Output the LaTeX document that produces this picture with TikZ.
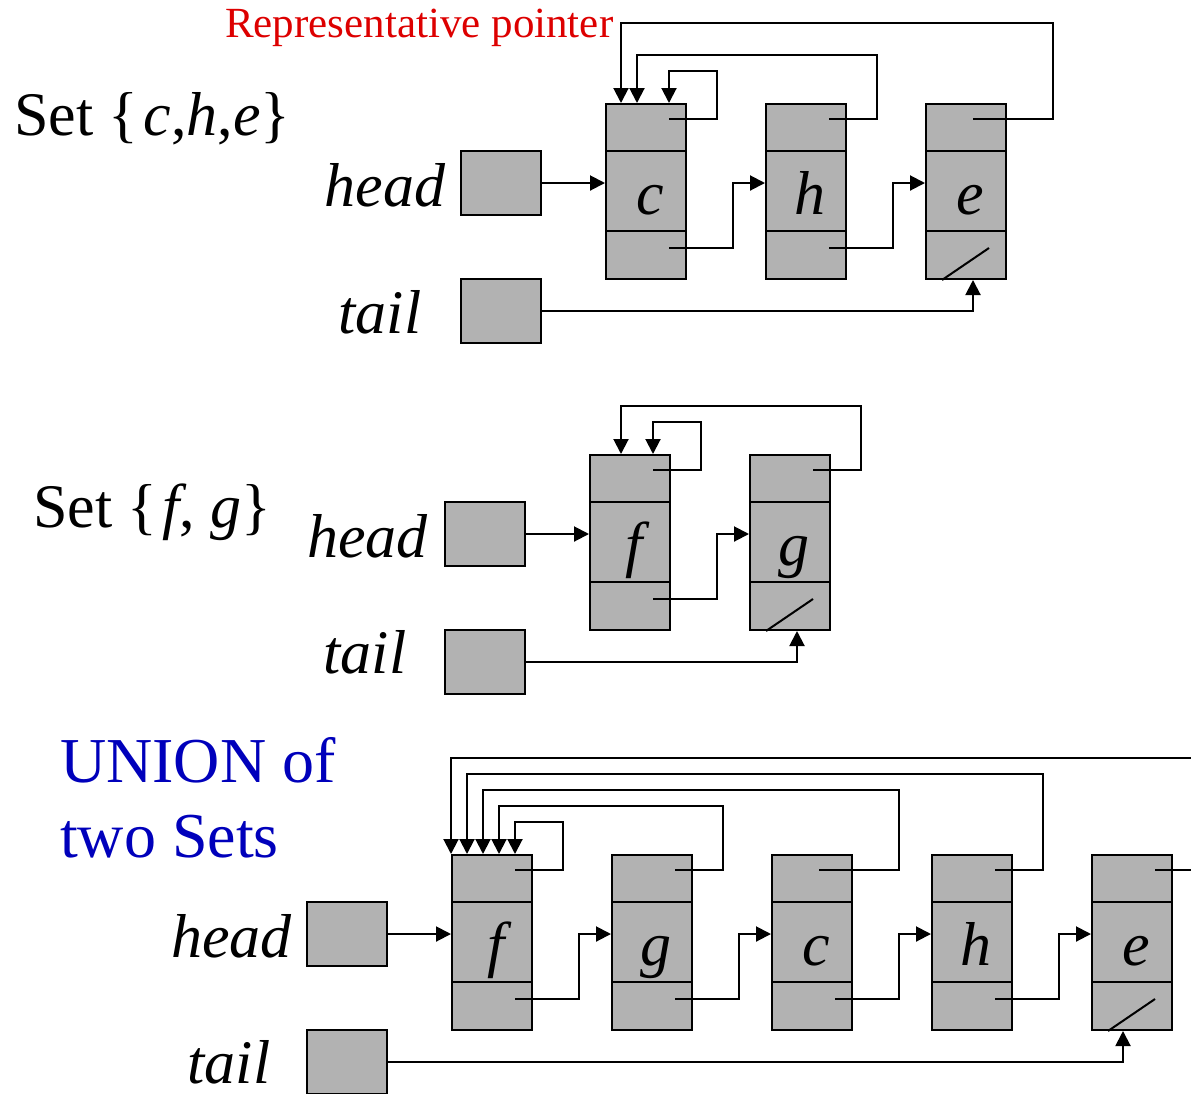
\documentclass[tikz,border=0pt]{standalone}
\usepackage{fontspec}
\setmainfont{Liberation Serif}
\usetikzlibrary{arrows.meta,calc}

\definecolor{boxgray}{RGB}{178,178,178}
\definecolor{repred}{RGB}{221,0,0}
\definecolor{setblue}{RGB}{0,0,187}

\tikzset{
  elem/.style={draw, fill=boxgray, line width=2pt, minimum width=80pt,
    minimum height=175pt, inner sep=0pt, anchor=north west},
  ptrbox/.style={draw, fill=boxgray, line width=2pt, minimum width=80pt,
    minimum height=64pt, inner sep=0pt},
  divider/.style={line width=2pt},
  wire/.style={line width=2pt},
  link/.style={line width=2pt, -{Triangle[length=15pt,width=15pt]}},
  letter/.style={anchor=base, inner sep=0pt, font=\fontsize{62}{62}\selectfont\itshape},
  lbl/.style={inner sep=0pt, font=\fontsize{62}{62}\selectfont},
  ilbl/.style={inner sep=0pt, anchor=base, font=\fontsize{62}{62}\selectfont\itshape},
}

% one list element: name, left x, top y, letter
\newcommand\ListElem[4]{%
  \node[elem] (#1) at (#2,#3) {};
  \draw[divider] ($(#1.north west)+(0,48)$) -- ($(#1.north east)+(0,48)$);
  \draw[divider] ($(#1.north west)+(0,128)$) -- ($(#1.north east)+(0,128)$);
  \node[letter] (#1-t) at ($(#1.north)+(4,111)$) {#4};
  \coordinate (#1-r) at ($(#1.north west)+(64,16)$);
  \coordinate (#1-n) at ($(#1.south west)+(64,-32)$);
  \coordinate (#1-in) at ($(#1.north west)+(0,80)$);
}
% null "next" field
\newcommand\NullMark[1]{%
  \draw[wire] ($(#1.south west)+(17,0)$) -- ($(#1.south west)+(64,-32)$);
}

\begin{document}
\begin{tikzpicture}[x=1pt,y=-1pt]
\useasboundingbox (0,0) rectangle (1191,1093);
\clip (0,0) rectangle (1191,1093);

% ---------------- Set {c,h,e} ----------------
\node[lbl, text=repred, font=\fontsize{43}{43}\selectfont, anchor=base west] (rep) at (225,37) {Representative pointer};
\node[lbl, anchor=base west] (set1) at (14,135) {Set \{\kern5pt\textit{c},\textit{h},\textit{e}\}};
\node[ilbl] (head1) at (385,206) {head};
\node[ilbl] (tail1) at (380,333) {tail};
\node[ptrbox] (hd1) at (501,183) {};
\node[ptrbox] (tl1) at (501,311) {};

\ListElem{c1}{605}{103}{c}
\ListElem{h1}{765}{103}{h}
\ListElem{e1}{925}{103}{e}
\coordinate (e1-r) at ($(e1.north west)+(48,16)$);
\NullMark{e1}

\draw[link] (hd1.east) -- (c1-in);
\draw[link] (c1-n) -- ++(64,0) |- (h1-in);
\draw[link] (h1-n) -- ++(64,0) |- (e1-in);
\draw[link] (tl1.east) -| ($(e1.south west)+(48,0)$);

\draw[link] (c1-r) -- ++(48,0) |- ($(c1.north west)+(64,-32)$) -- ($(c1.north west)+(64,0)$);
\draw[link] (h1-r) -- ++(48,0) |- ($(c1.north west)+(32,-48)$) -- ($(c1.north west)+(32,0)$);
\draw[link] (e1-r) -- ++(80,0) |- ($(c1.north west)+(16,-80)$) -- ($(c1.north west)+(16,0)$);

% ---------------- Set {f, g} ----------------
\node[lbl, anchor=base west] (set2) at (33,527) {Set \{\kern5pt\textit{f}, \textit{g}\}};
\node[ilbl] (head2) at (367.5,557) {head};
\node[ilbl] (tail2) at (365,673) {tail};
\node[ptrbox] (hd2) at (485,534) {};
\node[ptrbox] (tl2) at (485,662) {};

\ListElem{f2}{589}{454}{f}
\ListElem{g2}{749}{454}{g}
\NullMark{g2}

\draw[link] (hd2.east) -- (f2-in);
\draw[link] (f2-n) -- ++(64,0) |- (g2-in);
\draw[link] (tl2.east) -| ($(g2.south west)+(48,0)$);

\draw[link] (f2-r) -- ++(48,0) |- ($(f2.north west)+(64,-32)$) -- ($(f2.north west)+(64,0)$);
\draw[link] (g2-r) -- ++(48,0) |- ($(f2.north west)+(32,-48)$) -- ($(f2.north west)+(32,0)$);

% ---------------- UNION ----------------
\node[lbl, text=setblue, font=\fontsize{64}{64}\selectfont, anchor=base west] (un1) at (60,782) {UNION of};
\node[lbl, text=setblue, font=\fontsize{64}{64}\selectfont, anchor=base west] (un2) at (60,857) {two Sets};
\node[ilbl] (head3) at (231.5,957) {head};
\node[ilbl] (tail3) at (229,1083) {tail};
\node[ptrbox] (hd3) at (347,934) {};
\node[ptrbox] (tl3) at (347,1062) {};

\ListElem{f3}{451}{854}{f}
\ListElem{g3}{611}{854}{g}
\ListElem{c3}{771}{854}{c}
\ListElem{h3}{931}{854}{h}
\ListElem{e3}{1091}{854}{e}
\coordinate (c3-r) at ($(c3.north west)+(48,16)$);
\NullMark{e3}

\draw[link] (hd3.east) -- (f3-in);
\draw[link] (f3-n) -- ++(64,0) |- (g3-in);
\draw[link] (g3-n) -- ++(64,0) |- (c3-in);
\draw[link] (c3-n) -- ++(64,0) |- (h3-in);
\draw[link] (h3-n) -- ++(64,0) |- (e3-in);
\draw[link] (tl3.east) -| ($(e3.south west)+(32,0)$);

\draw[link] (f3-r) -- ++(48,0) |- ($(f3.north west)+(64,-32)$) -- ($(f3.north west)+(64,0)$);
\draw[link] (g3-r) -- ++(48,0) |- ($(f3.north west)+(48,-48)$) -- ($(f3.north west)+(48,0)$);
\draw[link] (c3-r) -- ++(80,0) |- ($(f3.north west)+(32,-64)$) -- ($(f3.north west)+(32,0)$);
\draw[link] (h3-r) -- ++(48,0) |- ($(f3.north west)+(16,-80)$) -- ($(f3.north west)+(16,0)$);
\draw[link] (e3-r) -- ++(60,0) |- ($(f3.north west)+(0,-96)$) -- ($(f3.north west)+(0,0)$);
\end{tikzpicture}
\end{document}
